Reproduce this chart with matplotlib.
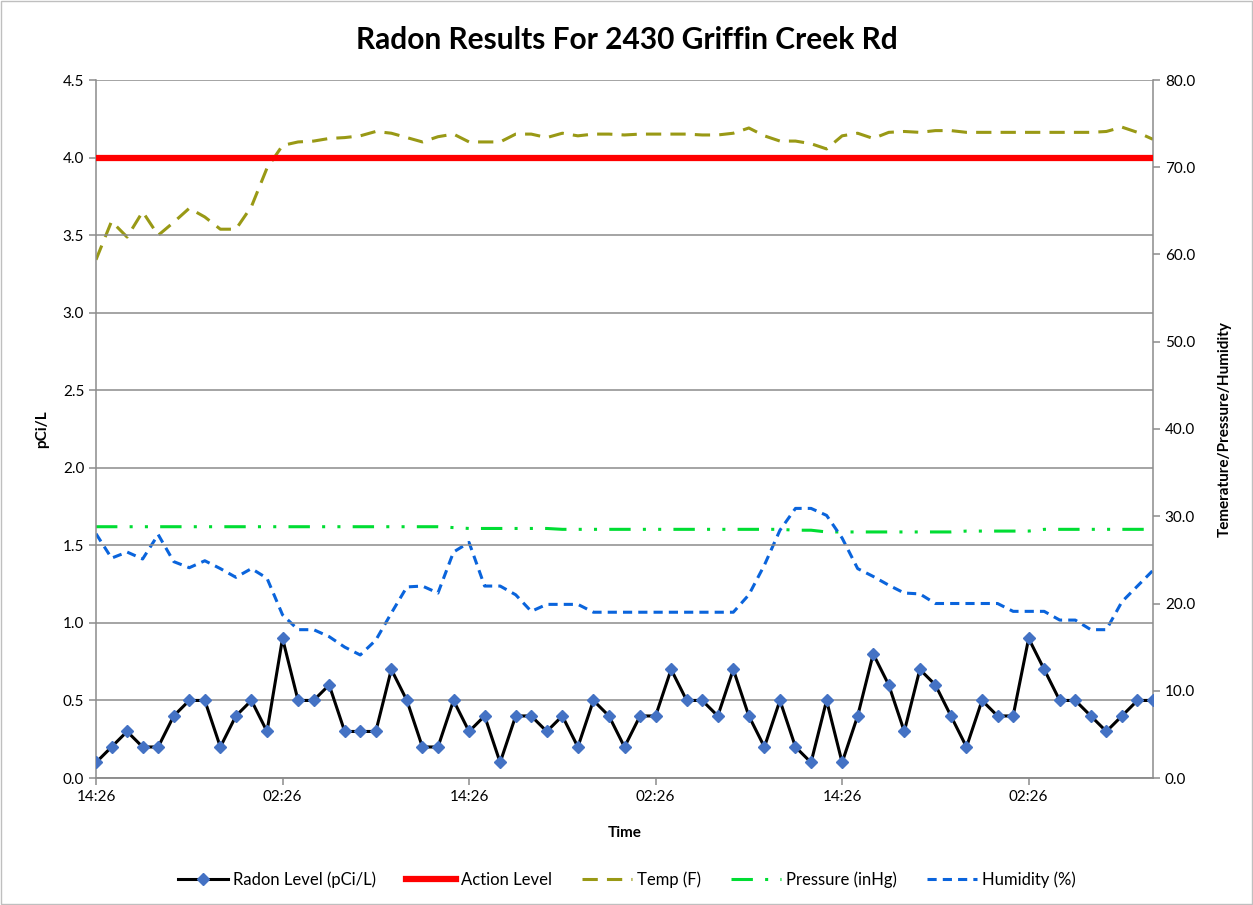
import matplotlib
matplotlib.use("Agg")
import matplotlib.pyplot as plt
from matplotlib.ticker import FormatStrFormatter, MultipleLocator

plt.rcParams["font.family"] = ["Lato", "DejaVu Sans"]

# hourly readings, starting 14:26
radon = [0.1, 0.2, 0.3, 0.2, 0.2, 0.4, 0.5, 0.5, 0.2, 0.4, 0.5, 0.3,
         0.9, 0.5, 0.5, 0.6, 0.3, 0.3, 0.3, 0.7, 0.5, 0.2, 0.2, 0.5,
         0.3, 0.4, 0.1, 0.4, 0.4, 0.3, 0.4, 0.2, 0.5, 0.4, 0.2, 0.4,
         0.4, 0.7, 0.5, 0.5, 0.4, 0.7, 0.4, 0.2, 0.5, 0.2, 0.1, 0.5,
         0.1, 0.4, 0.8, 0.6, 0.3, 0.7, 0.6, 0.4, 0.2, 0.5, 0.4, 0.4,
         0.9, 0.7, 0.5, 0.5, 0.4, 0.3, 0.4, 0.5, 0.5]
action_level = 4.0
temp = [59.4, 63.8, 62.0, 64.9, 62.2, 63.7, 65.3, 64.3, 62.9, 62.9, 65.5, 69.9,
        72.5, 72.9, 73.0, 73.3, 73.4, 73.6, 74.1, 73.9, 73.4, 72.9, 73.5, 73.8,
        72.9, 72.9, 72.9, 73.8, 73.8, 73.4, 73.9, 73.6, 73.8, 73.8, 73.7, 73.8,
        73.8, 73.8, 73.8, 73.7, 73.7, 73.9, 74.5, 73.6, 73.0, 73.0, 72.7, 72.1,
        73.6, 73.9, 73.3, 74.0, 74.1, 74.0, 74.2, 74.2, 74.0, 74.0, 74.0, 74.0,
        74.0, 74.0, 74.0, 74.0, 74.0, 74.1, 74.6, 74.0, 73.2]
pressure = [28.8] * 23 + [28.7] + [28.6] * 6 + [28.5] * 15 + [28.4] * 2 + \
           [28.2] * 9 + [28.3] * 5 + [28.5] * 8
humidity = [28.0, 25.2, 25.9, 25.1, 27.9, 24.8, 24.1, 24.9, 24.0, 23.0, 24.0, 22.9,
            18.7, 17.0, 17.0, 16.2, 15.0, 14.1, 15.8, 18.9, 21.9, 22.0, 21.2, 25.9,
            27.0, 22.0, 22.0, 21.0, 19.1, 19.9, 19.9, 19.9, 19.0, 19.0, 19.0, 19.0,
            19.0, 19.0, 19.0, 19.0, 19.0, 19.0, 21.0, 24.4, 28.4, 30.9, 30.9, 30.1,
            27.5, 24.0, 23.1, 22.1, 21.2, 21.1, 20.0, 20.0, 20.0, 20.0, 20.0, 19.1,
            19.1, 19.1, 18.1, 18.1, 17.0, 17.0, 20.2, 22.0, 23.8]
hours = list(range(len(radon)))
tick_hours = [0, 12, 24, 36, 48, 60]
tick_labels = ["14:26", "02:26", "14:26", "02:26", "14:26", "02:26"]

fig = plt.figure(figsize=(12.53, 9.05), dpi=100)
ax = fig.add_axes([96 / 1253, 1 - 778 / 905, (1153 - 96) / 1253, (778 - 80) / 905])
ax2 = ax.twinx()
ax.set_zorder(ax2.get_zorder() + 1)
ax.patch.set_visible(False)

grey = "#8c8c8c"
r1, = ax.plot(hours, radon, color="black", lw=2.2, marker="D", ms=6.5,
              mfc="#4472C4", mec="#4472C4", label="Radon Level (pCi/L)", zorder=5)
r2 = ax.axhline(action_level, color="#FF0000", lw=4.5, label="Action Level", zorder=4)
l1, = ax2.plot(hours, temp, color="#999915", lw=2.2, dashes=(5, 3), label="Temp (F)")
l2, = ax2.plot(hours, pressure, color="#00DD33", lw=2.2,
               dashes=(7, 4, 1, 4, 1, 4), label="Pressure (inHg)")
l3, = ax2.plot(hours, humidity, color="#0A64DC", lw=2.2, dashes=(3, 2),
               label="Humidity (%)")

ax.set_xlim(0, 68)
ax.set_ylim(0, 4.5)
ax2.set_ylim(0, 80)
ax.yaxis.set_major_locator(MultipleLocator(0.5))
ax.yaxis.set_major_formatter(FormatStrFormatter("%.1f"))
ax2.yaxis.set_major_locator(MultipleLocator(10))
ax2.yaxis.set_major_formatter(FormatStrFormatter("%.1f"))
ax.set_xticks(tick_hours)
ax.set_xticklabels(tick_labels)
ax.grid(axis="y", color=grey, lw=1.1)
ax.set_axisbelow(True)

for a in (ax, ax2):
    a.spines["top"].set_visible(False)
    for s in ("left", "right", "bottom"):
        a.spines[s].set_color(grey)
        a.spines[s].set_linewidth(1.1)
    a.tick_params(colors=grey, labelcolor="black", labelsize=11, length=5, width=1.1)
ax.spines["right"].set_visible(False)
ax2.spines["left"].set_visible(False)

ax.set_ylabel("pCi/L", fontsize=11, fontweight="bold", labelpad=10)
ax2.set_ylabel("Temerature/Pressure/Humidity", fontsize=11, fontweight="bold", labelpad=16)
ax.set_xlabel("Time", fontsize=11, fontweight="bold", labelpad=16)
fig.suptitle("Radon Results For 2430 Griffin Creek Rd", fontsize=21.5,
             fontweight="bold", y=1 - 40 / 905, va="center")

fig.legend(handles=[r1, r2, l1, l2, l3], loc="center", bbox_to_anchor=(0.5, 1 - 880 / 905),
           ncol=5, frameon=False, fontsize=12, handlelength=3.0, handletextpad=0.3,
           columnspacing=1.8)

fig.patches.append(plt.Rectangle((0.001, 0.001), 0.998, 0.998, transform=fig.transFigure,
                                 fill=False, edgecolor="#bfbfbf", lw=1))
fig.savefig("out.png", dpi=100)
